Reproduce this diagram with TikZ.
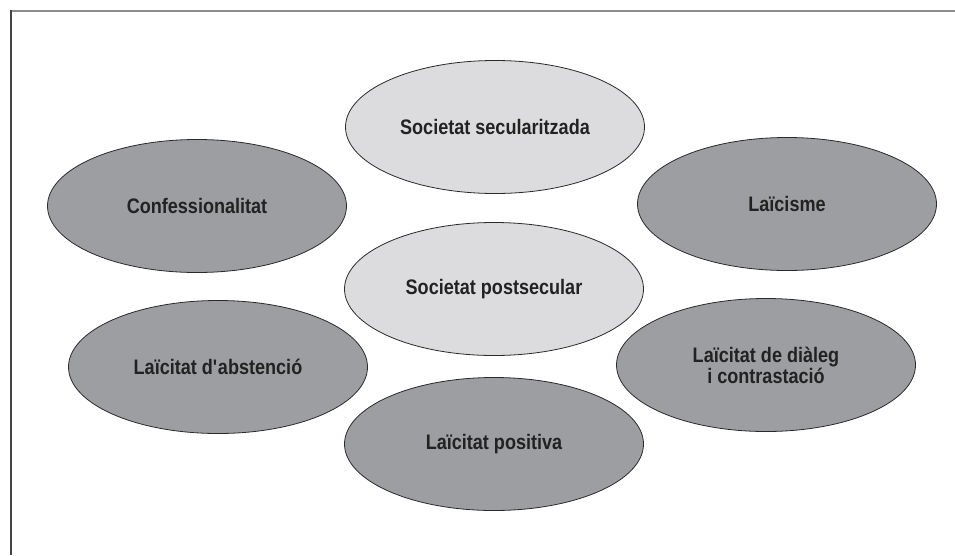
\documentclass[tikz,border=0pt]{standalone}
\usepackage{fontspec}
\setmainfont{Liberation Sans}[FakeStretch=0.86]
\usetikzlibrary{shapes.geometric}
\definecolor{darkfill}{HTML}{9D9EA2}
\definecolor{lightfill}{HTML}{DCDCDE}
\definecolor{edge}{HTML}{2A2A2A}
\definecolor{txt}{HTML}{222222}
\definecolor{topline}{HTML}{8C8C8C}
\definecolor{leftline}{HTML}{444444}
\tikzset{
  bubble/.style={ellipse, draw=edge, line width=0.8pt, minimum width=299pt, minimum height=133pt,
    inner sep=0pt, align=center, text=txt,
    font=\fontsize{21}{21}\selectfont\bfseries},
  darkbubble/.style={bubble, fill=darkfill},
  lightbubble/.style={bubble, fill=lightfill}
}
\begin{document}
\begin{tikzpicture}[x=1pt,y=-1pt]
\useasboundingbox (0,0) rectangle (955,555);
\fill[white] (0,0) rectangle (955,555);
\coordinate (tl) at (10,11);
\coordinate (tr) at (955,11);
\coordinate (lt) at (10.8,10);
\coordinate (bl) at (10.8,555);
\draw[topline, line width=2pt] (tl) -- (tr);
\draw[leftline, line width=1.6pt] (lt) -- (bl);
\node[lightbubble] (sec) at (495,127) {Societat secularitzada};
\node[darkbubble] (conf) at (197,206) {Confessionalitat};
\node[darkbubble] (laic) at (787,204) {Laïcisme};
\node[lightbubble] (post) at (494,289) {Societat postsecular};
\node[darkbubble] (abst) at (218,367) {Laïcitat d\textquotesingle abstenció};
\node[darkbubble] (dial) at (766,365) {Laïcitat de diàleg\\i contrastació};
\node[darkbubble] (posi) at (494,444) {Laïcitat positiva};
\end{tikzpicture}
\end{document}
